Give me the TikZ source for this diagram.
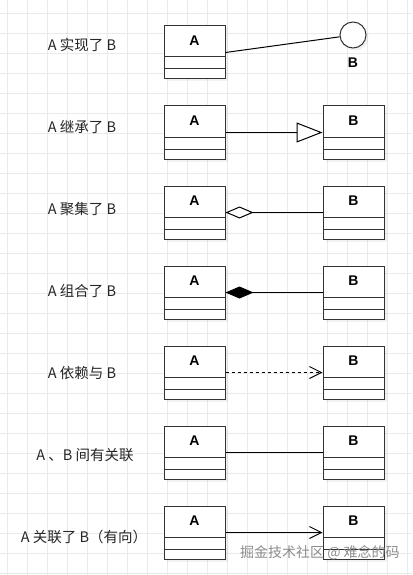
\documentclass[tikz,border=0pt]{standalone}
\usepackage{fontspec}
\setmainfont{Liberation Sans}
\newfontfamily\cjk{Noto Sans CJK SC}
\usetikzlibrary{arrows.meta,shadows}
\definecolor{gridc}{HTML}{EAEAEA}
\definecolor{boxc}{HTML}{333333}
\begin{document}
\begin{tikzpicture}[x=1pt,y=-1pt,
  gridline/.style={draw=gridc, line width=0.7pt},
  cls/.style={draw=boxc, fill=white, line width=1pt, minimum width=61pt, minimum height=53pt, inner sep=0pt,
    drop shadow={opacity=0.10, shadow xshift=2.5pt, shadow yshift=-2.5pt}},
  clsline/.style={draw=boxc, line width=1pt},
  clsname/.style={font=\bfseries\fontsize{14}{14}\selectfont, inner sep=0pt},
  lbl/.style={font=\cjk\fontsize{14.5}{14.5}\selectfont, text=black!85, inner sep=0pt},
  conn/.style={draw=black, line width=1pt},
]
\useasboundingbox (0,0) rectangle (412,575);
\fill[white] (0,0) rectangle (412,575);
\foreach \x in {7,27,...,407} \draw[gridline] (\x,0) -- (\x,575);
\foreach \y in {13,33,...,573} \draw[gridline] (0,\y) -- (412,\y);

% class boxes
\foreach \i in {0,...,6} {
  \pgfmathsetmacro{\t}{26+80*\i}
  \node[cls] (A\i) at (194.5,\t+26.5) {};
  \draw[clsline] (164,\t+31) -- (225,\t+31);
  \draw[clsline] (164,\t+43) -- (225,\t+43);
  \node[clsname] (An\i) at (194.5,\t+15) {A};
}
\foreach \i in {1,...,6} {
  \pgfmathsetmacro{\t}{26+80*\i}
  \node[cls] (B\i) at (353.5,\t+26.5) {};
  \draw[clsline] (323,\t+31) -- (384,\t+31);
  \draw[clsline] (323,\t+43) -- (384,\t+43);
  \node[clsname] (Bn\i) at (353.5,\t+15) {B};
}

% interface circle
\node[circle, draw=boxc, fill=white, line width=1pt, minimum size=26pt, inner sep=0pt,
  drop shadow={opacity=0.10, shadow xshift=2.5pt, shadow yshift=-2.5pt}] (C) at (353,35) {};
\node[clsname] (Cn) at (353,63) {B};

% labels
\node[lbl] (L0) at (82,45)  {A 实现了 B};
\node[lbl] (L1) at (82,127) {A 继承了 B};
\node[lbl] (L2) at (82,209) {A 聚集了 B};
\node[lbl] (L3) at (82,291) {A 组合了 B};
\node[lbl] (L4) at (82,373) {A 依赖与 B};
\node[lbl] (L5) at (85,455) {A 、B 间有关联};
\node[lbl] (L6) at (84,537) {A 关联了 B（有向）};

% connectors
\draw[conn] (A0.east) -- (C);
\draw[conn, -{Triangle[open, length=26pt, width=20pt, fill=white]}] (A1.east) -- (B1.west);
\draw[conn, {Diamond[open, length=28pt, width=12pt, fill=white]}-] (A2.east) -- (B2.west);
\draw[conn, {Diamond[length=28pt, width=12pt]}-] (A3.east) -- (B3.west);
\draw[conn, dash pattern=on 3pt off 3pt, -{Straight Barb[length=12pt, width=12pt]}] (A4.east) -- (B4.west);
\draw[conn] (A5.east) -- (B5.west);
\draw[conn, -{Straight Barb[length=12pt, width=12pt]}] (A6.east) -- (B6.west);

% watermark
\node[font=\cjk\fontsize{14}{14}\selectfont, text=black!45, inner sep=0pt, anchor=west] (W) at (240,553) {掘金技术社区 @ 难念的码};
\end{tikzpicture}
\end{document}
